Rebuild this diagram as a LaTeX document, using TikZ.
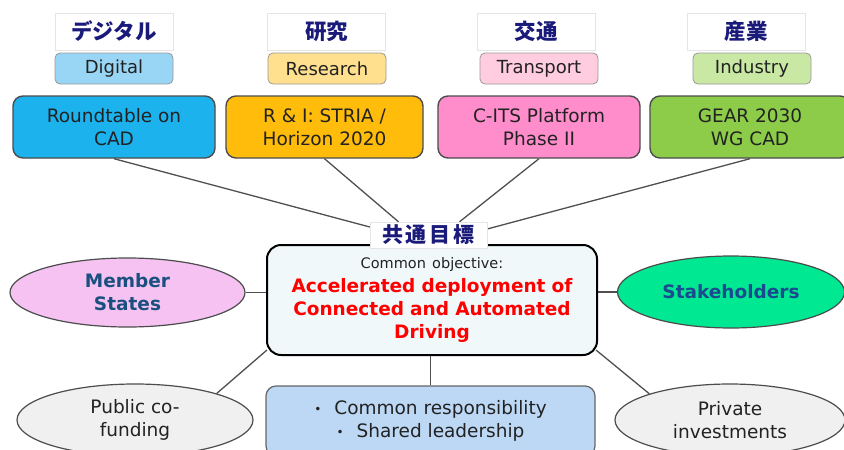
\documentclass[tikz,border=0pt]{standalone}
\usepackage{fontspec}
\setmainfont{DejaVu Sans}
\newfontfamily\jp{Noto Sans CJK JP}
\usetikzlibrary{shapes.geometric,calc}
\pgfdeclarelayer{background}
\pgfsetlayers{background,main}
\definecolor{jpblue}{HTML}{1A1A7A}
\definecolor{txt}{HTML}{222222}
\definecolor{cDigital}{HTML}{99D6F5}
\definecolor{cResearch}{HTML}{FFE08E}
\definecolor{cTransport}{HTML}{FFCCE0}
\definecolor{cIndustry}{HTML}{C8E8A4}
\definecolor{bDigital}{HTML}{1BB2EE}
\definecolor{bResearch}{HTML}{FFBC0A}
\definecolor{bTransport}{HTML}{FF8CCB}
\definecolor{bIndustry}{HTML}{8CCC48}
\definecolor{cCenter}{HTML}{F0F8FA}
\definecolor{cMember}{HTML}{F5C2F2}
\definecolor{cStake}{HTML}{00E892}
\definecolor{cGray}{HTML}{F0F0F0}
\definecolor{cBottom}{HTML}{BCD8F5}
\definecolor{tMember}{HTML}{1A5080}
\definecolor{tStake}{HTML}{1A4A90}
\definecolor{lineGray}{HTML}{505050}
\tikzset{
  x=1pt,y=1pt,
  jplabel/.style={draw=gray!20, fill=white, minimum width=118pt, minimum height=37pt, inner sep=0pt,
    font=\jp\bfseries\fontsize{21.5}{24}\selectfont, text=jpblue},
  catlabel/.style={draw=gray!80, line width=0.8pt, rounded corners=5pt, minimum width=118pt, minimum height=31pt,
    inner sep=0pt, font=\fontsize{18}{22}\selectfont, text=txt},
  mainbox/.style={draw=black!70, line width=1.4pt, rounded corners=10pt, minimum height=62pt, inner sep=0pt,
    align=center, font=\fontsize{18.5}{23}\selectfont, text=txt},
  ell/.style={ellipse, draw=black!70, line width=1.2pt, inner sep=0pt, align=center,
    font=\fontsize{18.5}{23}\selectfont, text=txt},
  conn/.style={draw=lineGray, line width=1.3pt},
}
\newcommand{\bul}{\raisebox{1.5pt}{\fontsize{12}{12}\selectfont•}\hspace{13pt}}
\begin{document}
\begin{tikzpicture}
\clip (0,0) rectangle (844,-450);
% Japanese headings
\node[jplabel] (jp1) at (114,-31.5) {デジタル};
\node[jplabel] (jp2) at (326.5,-31.5) {研究};
\node[jplabel] (jp3) at (536,-31.5) {交通};
\node[jplabel] (jp4) at (746,-31.5) {産業};
% category labels
\node[catlabel, fill=cDigital] (cat1) at (114,-68.5) {Digital};
\node[catlabel, fill=cResearch] (cat2) at (327,-68.5) {Research};
\node[catlabel, fill=cTransport] (cat3) at (539,-68.5) {Transport};
\node[catlabel, fill=cIndustry] (cat4) at (752,-68.5) {Industry};
% main boxes
\node[mainbox, fill=bDigital, minimum width=202pt] (b1) at (114,-127) {Roundtable on\\CAD};
\node[mainbox, fill=bResearch, minimum width=197pt] (b2) at (324.5,-127) {R \& I: STRIA /\\Horizon 2020};
\node[mainbox, fill=bTransport, minimum width=202pt] (b3) at (539,-127) {C-ITS Platform\\Phase II};
\node[mainbox, fill=bIndustry, minimum width=200pt] (b4) at (750,-127) {GEAR 2030\\WG CAD};
% center
\node[draw=black, line width=2pt, rounded corners=14pt, fill=cCenter, minimum width=330pt, minimum height=110pt,
  inner sep=0pt, text width=326pt, align=center, font=\fontsize{18.5}{23}\selectfont] (cb) at (432,-300)
  {{\fontsize{14.5}{17}\selectfont\color{txt}Common objective:\par}\vspace{1pt}
   {\color{red}\bfseries Accelerated deployment of\\Connected and Automated\\Driving\par}};
\node[draw=gray!20, fill=white, minimum width=117pt, minimum height=26pt, inner sep=0pt,
  font=\jp\bfseries\fontsize{21}{24}\selectfont, text=jpblue] (goal) at (428.5,-235)
  {共\hspace{3pt}通\hspace{3pt}目\hspace{3pt}標};
% ellipses
\node[ell, fill=cMember, minimum width=235pt, minimum height=69pt, text=tMember, font=\bfseries\fontsize{18.5}{23}\selectfont] (ms) at (127.5,-292.5) {Member\\States};
\node[ell, fill=cStake, minimum width=227pt, minimum height=72pt, text=tStake, font=\bfseries\fontsize{18.5}{23}\selectfont] (sh) at (731,-292) {Stakeholders};
\node[ell, fill=cGray, minimum width=236pt, minimum height=72pt] (pub) at (135,-420) {Public co-\\funding};
\node[ell, fill=cGray, minimum width=230pt, minimum height=72pt] (priv) at (730,-420) {Private\\investments};
% bottom box
\node[draw=black!60, line width=1.2pt, rounded corners=10pt, fill=cBottom, minimum width=329pt, minimum height=70pt,
  inner sep=0pt, align=center, font=\fontsize{18.5}{23}\selectfont, text=txt] (bb) at (430.5,-421)
  {\bul Common responsibility\\
   \bul Shared leadership};
% connectors
\begin{pgfonlayer}{background}
\fill[white] (0,0) rectangle (844,-450);
\draw[conn] (b1.south) -- ($(goal.west)+(0,8)$);
\draw[conn] (b2.south) -- ($(goal.north)+(-30,0)$);
\draw[conn] (b3.south) -- ($(goal.north)+(31,0)$);
\draw[conn] (b4.south) -- ($(goal.east)+(0,6)$);
\draw[conn] (ms.east) -- (ms.east -| cb.west);
\draw[conn] (sh.west) -- (sh.west -| cb.east);
\draw[conn] ($(cb.south west)+(1,6)$) -- (pub.18);
\draw[conn] ($(cb.south east)+(-2,6)$) -- (priv.162);
\draw[conn] (cb.south -| bb.north) -- (bb.north);
\end{pgfonlayer}
\end{tikzpicture}
\end{document}
